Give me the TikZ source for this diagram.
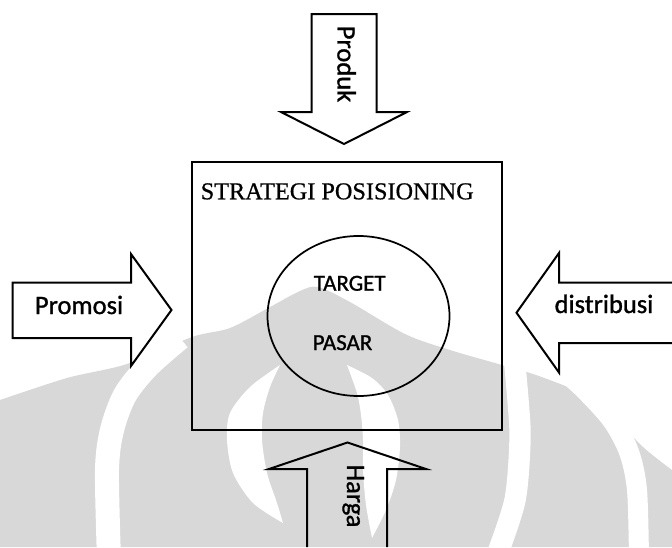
\documentclass[tikz,border=0pt]{standalone}
\usepackage{fontspec}
\setmainfont{Liberation Serif}[FakeBold=0.7]
\newfontfamily\calibfont{Carlito}[FakeBold=1.1]
\definecolor{wm}{RGB}{216,216,216}
\begin{document}
\begin{tikzpicture}[x=0.75pt,y=-0.75pt,
  blockarrow/.style={draw=black, line width=1.5pt, line join=miter},
  armlabel/.style={font=\calibfont\fontsize{19.9}{24}\selectfont, inner sep=0pt},
  corelabel/.style={font=\calibfont\fontsize{17.2}{20}\selectfont, inner sep=0pt},
  wmband/.style={draw=white, line cap=butt}]
\useasboundingbox (0,0) rectangle (672,547);

% ---- faint background emblem ----
\fill[wm] (0,547) -- plot[smooth] coordinates {(0,400) (67,378) (127,364) (192,337)
  (230,328) (270,307) (300,291) (318,287) (350,302) (405,334) (450,350) (502,365)
  (536,375) (579,392) (609,412) (643,447) (672,470)} -- (672,547) -- cycle;
% outer light bands
\draw[wmband, line width=18pt] plot[smooth] coordinates {(109,560) (107,470) (112,430)
  (125,395) (148,366) (180,338)};
\draw[wmband, line width=15pt] plot[smooth] coordinates {(639,560) (637,490) (629,452)
  (612,420) (585,390) (565,372)};
\draw[wmband, line width=16pt] plot[smooth] coordinates {(513,345) (518,400) (520,440)
  (515,500) (497,555)};
% inner light crescents
\fill[white] plot[smooth] coordinates {(280,365) (250,387) (230,413) (227,440) (233,473)
  (253,503) (283,523)} -- plot[smooth] coordinates {(283,523) (277,503) (267,473)
  (262,440) (263,413) (270,387) (280,365)} -- cycle;
\fill[white] plot[smooth] coordinates {(347,365) (372,378) (388,395) (398,420) (400,447)
  (396,480) (386,510) (372,538)} -- plot[smooth] coordinates {(372,538) (366,505)
  (363,470) (363,440) (361,415) (357,393) (347,365)} -- cycle;

% ---- central frame ----
\draw[line width=1.7pt] (192,162) rectangle (502,430);
\node[anchor=base west, inner sep=0pt, font=\fontsize{18.2}{22}\selectfont]
  (title) at (200.5,199.3) {STRATEGI POSISIONING};
\draw[line width=1.3pt] (358.5,316) ellipse [x radius=91, y radius=80];
\node[corelabel, anchor=base] (target) at (349.7,290.7) {TARGET};
\node[corelabel, anchor=base] (pasar) at (342.5,350) {PASAR};

% ---- block arrows ----
\draw[blockarrow] (311.5,14) -- (376.5,14) -- (376.5,112) -- (407,112) -- (344,144)
  -- (281,112) -- (311.5,112) -- cycle;
\node[armlabel, anchor=base, rotate=-90] (produk) at (337.5,64) {Produk};

\draw[blockarrow] (12.5,282.5) -- (131,282.5) -- (131,254) -- (171.5,310) -- (131,366)
  -- (131,338) -- (12.5,338) -- cycle;
\node[armlabel, anchor=base] (promosi) at (79,314) {Promosi};

\draw[blockarrow] (672,282.5) -- (559,282.5) -- (559,253) -- (516.5,312.7) -- (559,372.5)
  -- (559,343) -- (672,343);
\node[armlabel, anchor=base] (distribusi) at (604,313) {distribusi};

\draw[blockarrow] (307,547) -- (307,469) -- (269,469) -- (347.5,442.5) -- (426,469)
  -- (387,469) -- (387,547);
\node[armlabel, anchor=base, rotate=-90] (harga) at (347,496) {Harga};
\end{tikzpicture}
\end{document}
